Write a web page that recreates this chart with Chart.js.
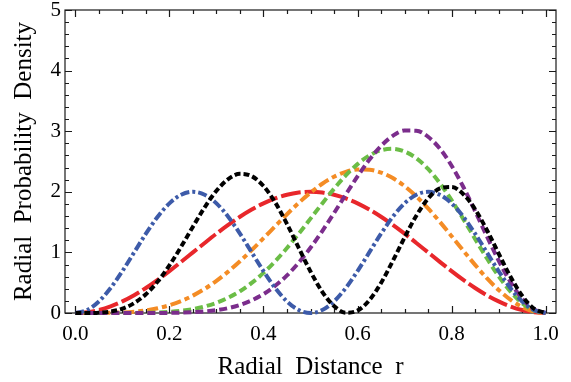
<!DOCTYPE html>
<html>
<head>
<meta charset="utf-8">
<script src="https://cdn.jsdelivr.net/npm/chart.js@4/dist/chart.umd.min.js"></script>
<style>
  html, body { margin: 0; padding: 0; background: #fff; }
  #wrap { width: 571px; height: 382px; }
</style>
</head>
<body>
<div id="wrap"><canvas id="chart" width="571" height="382"></canvas></div>
<script>
// radial distance samples
const radii = [0, 0.025, 0.05, 0.075, 0.1, 0.125, 0.15, 0.175, 0.2, 0.225, 0.25,
  0.275, 0.3, 0.325, 0.35, 0.375, 0.4, 0.425, 0.45, 0.475, 0.5,
  0.525, 0.55, 0.575, 0.6, 0.625, 0.65, 0.675, 0.7, 0.725, 0.75,
  0.775, 0.8, 0.825, 0.85, 0.875, 0.9, 0.925, 0.95, 0.975, 1];

// densities
const redDensity = [0, 0.012, 0.049, 0.109, 0.191, 0.293, 0.412, 0.546, 0.691, 0.844, 1.000,
  1.156, 1.309, 1.454, 1.588, 1.707, 1.809, 1.891, 1.951, 1.988, 2.000,
  1.988, 1.951, 1.891, 1.809, 1.707, 1.588, 1.454, 1.309, 1.156, 1.000,
  0.844, 0.691, 0.546, 0.412, 0.293, 0.191, 0.109, 0.049, 0.012, 0];
const blueDensity = [0, 0.049, 0.191, 0.412, 0.691, 1.000, 1.309, 1.588, 1.809, 1.951, 2.000,
  1.951, 1.809, 1.588, 1.309, 1.000, 0.691, 0.412, 0.191, 0.049, 0,
  0.049, 0.191, 0.412, 0.691, 1.000, 1.309, 1.588, 1.809, 1.951, 2.000,
  1.951, 1.809, 1.588, 1.309, 1.000, 0.691, 0.412, 0.191, 0.049, 0];
const orangeDensity = [0, 0.000, 0.001, 0.003, 0.009, 0.022, 0.044, 0.079, 0.129, 0.198, 0.287,
  0.398, 0.530, 0.683, 0.854, 1.039, 1.234, 1.433, 1.630, 1.817, 1.986,
  2.133, 2.248, 2.329, 2.368, 2.365, 2.317, 2.226, 2.094, 1.925, 1.726,
  1.504, 1.268, 1.028, 0.794, 0.574, 0.381, 0.220, 0.099, 0.025, 0];
const greenDensity = [0, 0, 0, 0, 0.000, 0.001, 0.004, 0.009, 0.019, 0.036, 0.065,
  0.107, 0.168, 0.252, 0.360, 0.497, 0.662, 0.855, 1.072, 1.309, 1.557,
  1.808, 2.050, 2.270, 2.457, 2.599, 2.686, 2.710, 2.666, 2.554, 2.377,
  2.142, 1.861, 1.549, 1.223, 0.903, 0.607, 0.355, 0.162, 0.041, 0];
const purpleDensity = [0, 0, 0, 0, 0, 0, 0, 0.001, 0.002, 0.006, 0.013,
  0.025, 0.047, 0.081, 0.134, 0.209, 0.312, 0.449, 0.621, 0.831, 1.076,
  1.352, 1.649, 1.955, 2.254, 2.528, 2.757, 2.924, 3.011, 3.008, 2.908,
  2.713, 2.431, 2.079, 1.681, 1.266, 0.866, 0.513, 0.237, 0.061, 0];
const blackDensity = [0, 0.000, 0.005, 0.024, 0.071, 0.163, 0.310, 0.518, 0.785, 1.095, 1.425,
  1.744, 2.017, 2.210, 2.296, 2.258, 2.096, 1.824, 1.469, 1.074, 0.685,
  0.350, 0.114, 0.005, 0.039, 0.210, 0.496, 0.858, 1.246, 1.606, 1.889,
  2.055, 2.080, 1.960, 1.712, 1.370, 0.982, 0.602, 0.284, 0.074, 0];

const xTickValues = [0, 0.2, 0.4, 0.6, 0.8, 1.0];
const yTickValues = [0, 1, 2, 3, 4, 5];

const serif = '"Liberation Serif", "Times New Roman", serif';

function toPoints(values) {
  return radii.map((r, i) => ({ x: r, y: values[i] }));
}

function curve(values, color, dash) {
  return {
    data: toPoints(values),
    borderColor: color,
    borderWidth: 4,
    borderDash: dash,
    pointRadius: 0,
    fill: false,
    cubicInterpolationMode: 'monotone',
    clip: false
  };
}

// frame with inward ticks on all four sides, like the original
const frameTicks = {
  id: 'frameTicks',
  beforeDatasetsDraw(chart) {
    const { ctx, chartArea: a, scales: { x, y } } = chart;
    ctx.save();
    ctx.strokeStyle = '#1a1a1a';
    ctx.lineWidth = 1.2;
    ctx.strokeRect(a.left, a.top, a.right - a.left, a.bottom - a.top);
    ctx.beginPath();
    for (let i = 0; i <= 20; i++) {
      const px = Math.round(x.getPixelForValue(i * 0.05)) + 0.5;
      const len = i % 4 === 0 ? 7 : 4;
      ctx.moveTo(px, a.bottom); ctx.lineTo(px, a.bottom - len);
      ctx.moveTo(px, a.top); ctx.lineTo(px, a.top + len);
    }
    for (let i = 0; i <= 25; i++) {
      const py = Math.round(y.getPixelForValue(i * 0.2)) + 0.5;
      const len = i % 5 === 0 ? 7 : 4;
      ctx.moveTo(a.left, py); ctx.lineTo(a.left + len, py);
      ctx.moveTo(a.right, py); ctx.lineTo(a.right - len, py);
    }
    ctx.stroke();
    ctx.restore();
  }
};

new Chart(document.getElementById('chart'), {
  type: 'line',
  data: {
    datasets: [
      curve(blackDensity, '#000000', [6, 3]),
      curve(blueDensity, '#3d5ba9', [9, 3, 3, 3]),
      curve(purpleDensity, '#7b2d8c', [8, 4]),
      curve(greenDensity, '#6bbd46', [8, 4]),
      curve(orangeDensity, '#f48c25', [11, 4, 5, 4]),
      curve(redDensity, '#e8272b', [20, 4])
    ]
  },
  options: {
    responsive: false,
    animation: false,
    devicePixelRatio: 1,
    layout: { padding: { top: 10, right: 15, left: 0, bottom: 0 } },
    plugins: { legend: { display: false }, tooltip: { enabled: false } },
    scales: {
      x: {
        type: 'linear',
        min: -0.022,
        max: 1.022,
        grid: { display: false, drawTicks: false },
        border: { display: false },
        afterBuildTicks: s => { s.ticks = xTickValues.map(v => ({ value: v })); },
        afterFit: s => { s.height = 69; s.paddingLeft = 0; s.paddingRight = 0; },
        ticks: {
          color: '#000',
          font: { family: serif, size: 21 },
          padding: 9,
          maxRotation: 0,
          callback: v => v.toFixed(1)
        },
        title: {
          display: true,
          text: 'Radial  Distance  r',
          color: '#000',
          font: { family: serif, size: 25 },
          padding: { top: 6, bottom: 0 }
        }
      },
      y: {
        min: 0,
        max: 5,
        grid: { display: false, drawTicks: false },
        border: { display: false },
        afterBuildTicks: s => { s.ticks = yTickValues.map(v => ({ value: v })); },
        afterFit: s => { s.width = 65; s.paddingTop = 0; s.paddingBottom = 0; },
        ticks: {
          color: '#000',
          font: { family: serif, size: 21 },
          padding: 4,
          callback: v => String(v)
        },
        title: {
          display: true,
          text: 'Radial  Probability  Density',
          color: '#000',
          font: { family: serif, size: 25 },
          padding: { top: 9, bottom: 0 }
        }
      }
    }
  },
  plugins: [frameTicks]
});
</script>
</body>
</html>
